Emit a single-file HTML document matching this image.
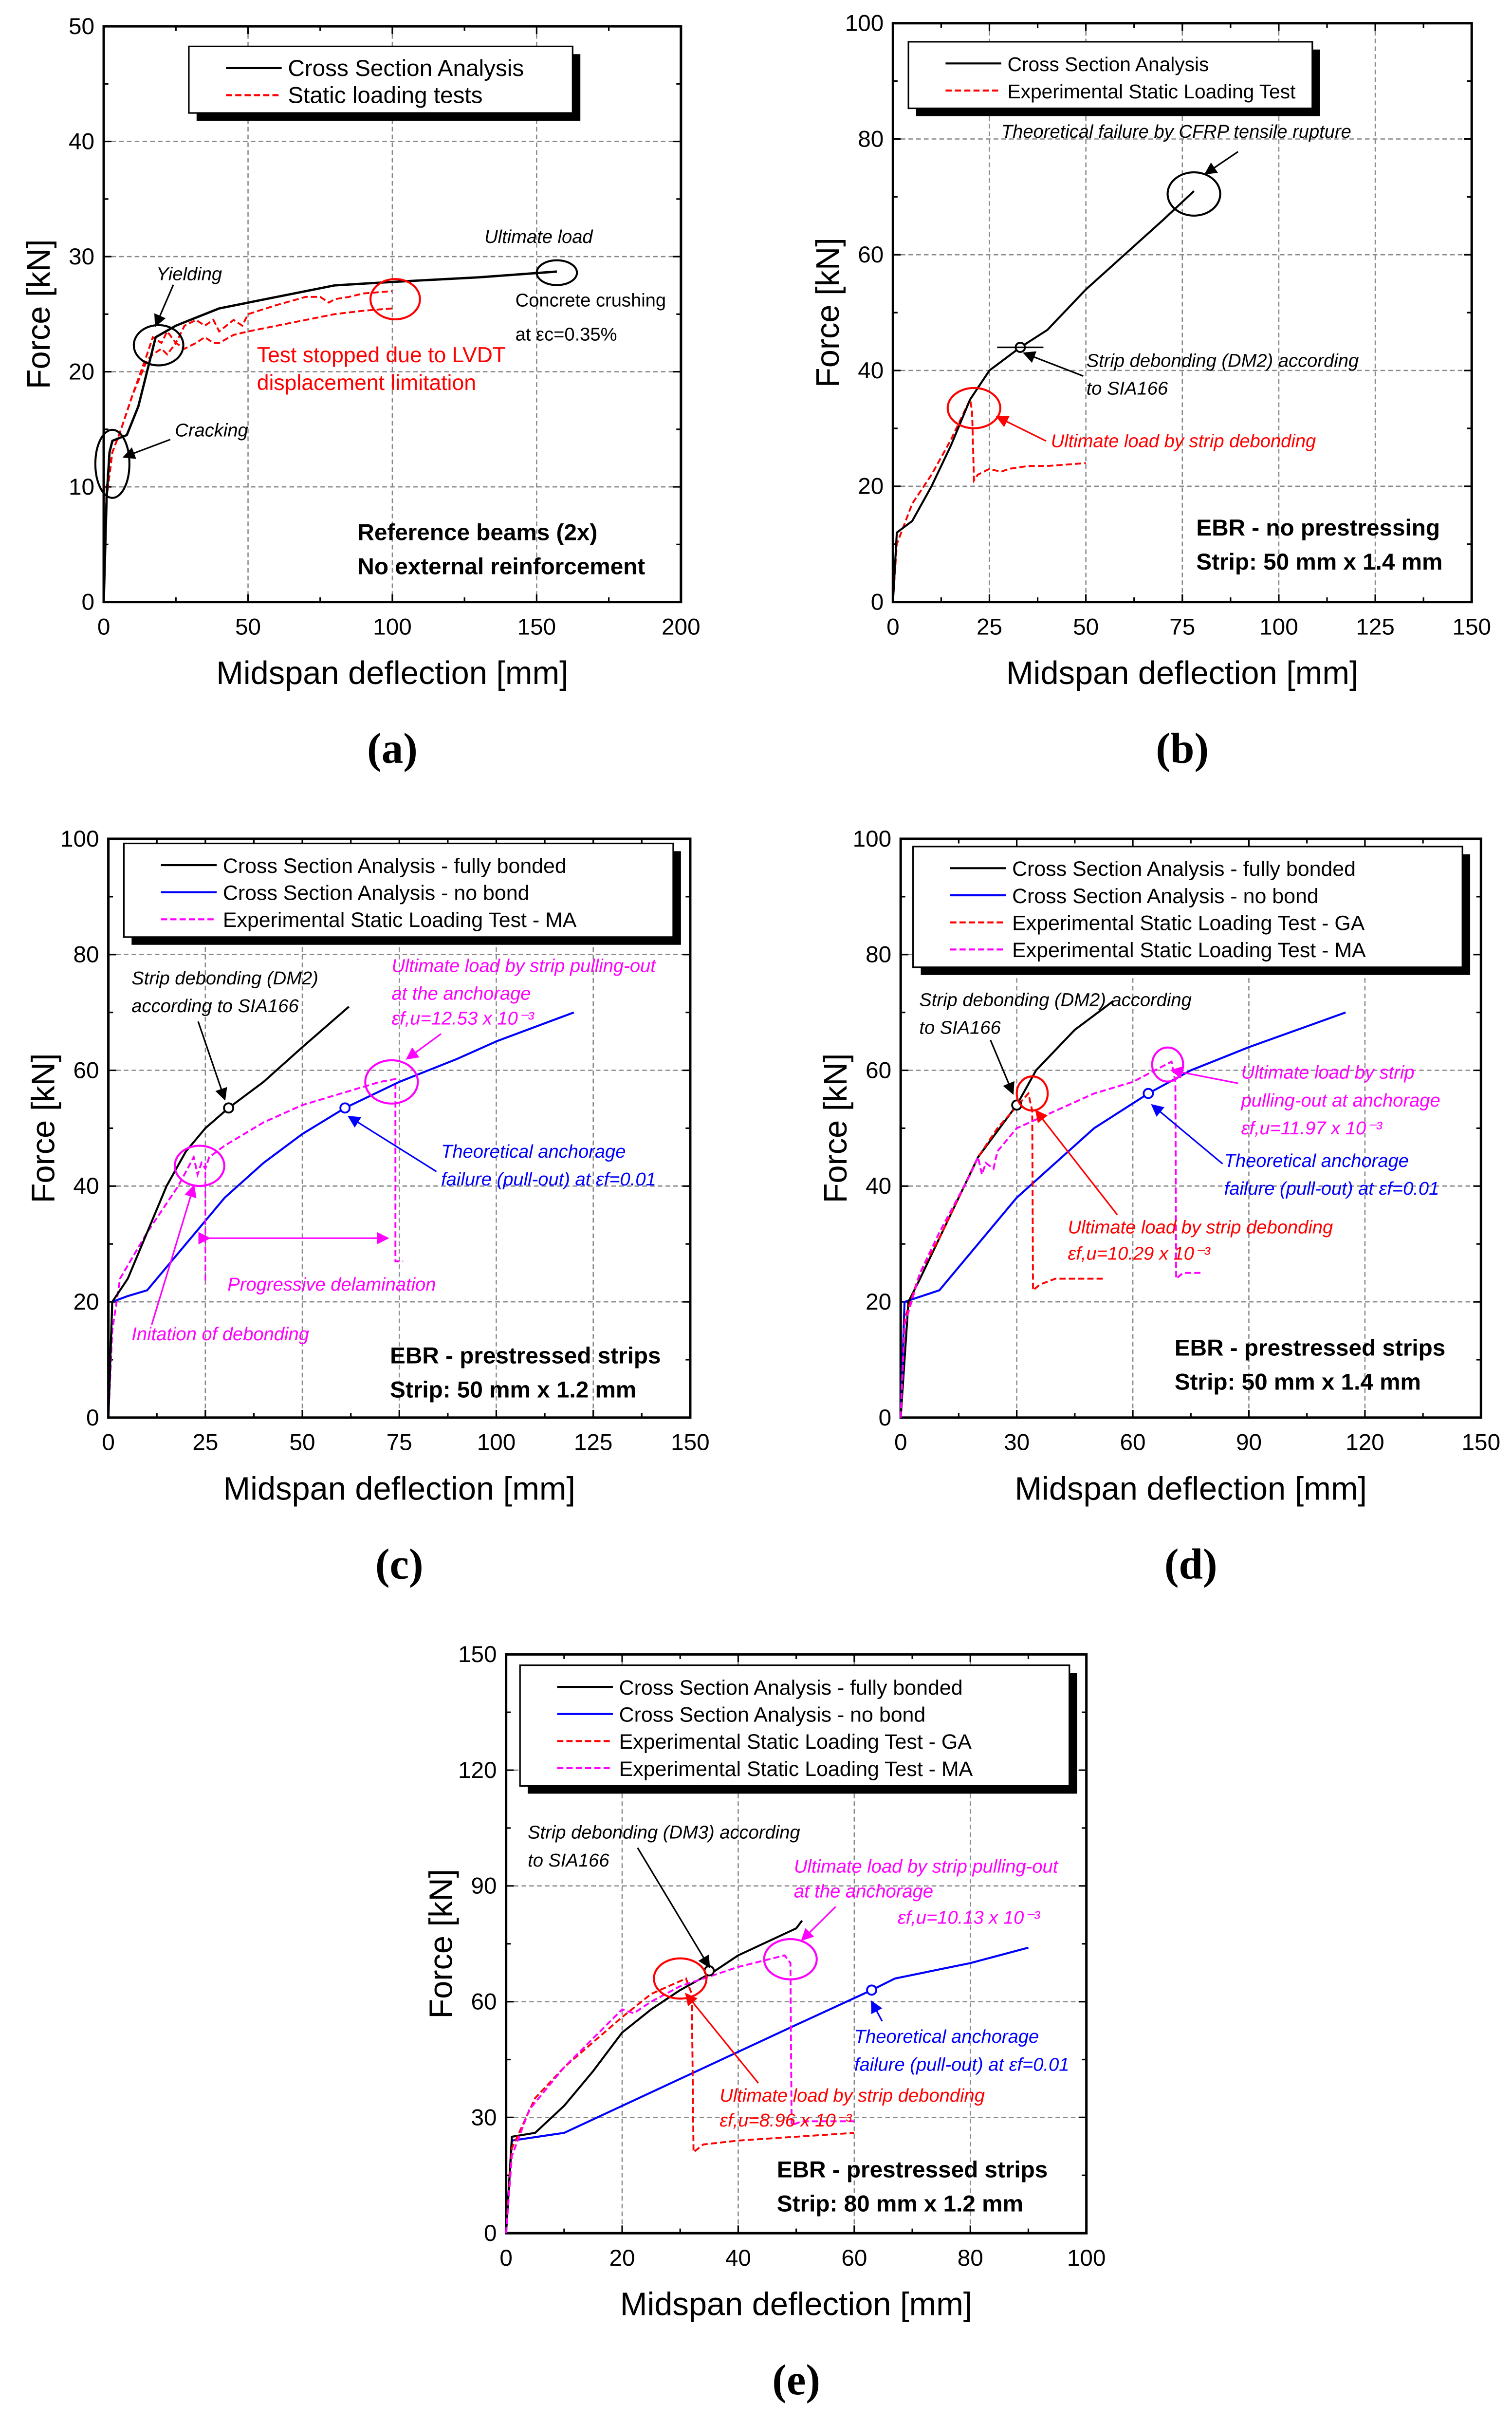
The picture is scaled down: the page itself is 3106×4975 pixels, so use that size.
<!DOCTYPE html>
<html><head><meta charset="utf-8"><style>
html,body{margin:0;padding:0;background:#fff;}
svg{display:block;}
</style></head><body>
<svg id="fig" xmlns="http://www.w3.org/2000/svg" width="3106" height="4975" viewBox="0 0 977 1565" font-family="Liberation Sans, sans-serif">
<rect width="977" height="1565" fill="#fff"/>
<defs>
<marker id="ah" markerWidth="8" markerHeight="8" refX="7" refY="4" orient="auto"><path d="M0,0 L8,4 L0,8 z" fill="context-stroke"/></marker>
</defs>
</svg>
<script>
// ---- data (deflection mm, force kN) ----
const aCsaX=[0,1,2,3,8,12,18,25,40,60,80,100,130,157];
const aCsaY=[0,9,13,14,14.5,17,23,24,25.5,26.5,27.5,27.8,28.2,28.7];
const aT1X=[0,1,3,6,10,15,17,20,22,25,28,32,35,38,40,45,48,50,60,70,75,78,80,85,90,100];
const aT1Y=[0,10,13,15,18,21.5,23,22.5,23.5,22.5,24,24.5,24,24.5,23.5,24.5,24,25,25.8,26.5,26.5,26,26.3,26.5,26.8,27];
const aT2X=[0,1,3,6,10,15,17,20,22,25,28,32,35,38,40,45,50,60,70,80,90,100];
const aT2Y=[0,9,13,15,18,21,21.5,22,21.5,22.5,22,22.5,23,22.5,22.5,23.2,23.5,24,24.5,25,25.3,25.5];
const bCsaX=[0,1,5,10,15,20,25,33,40,50,60,70,78];
const bCsaY=[0,12,14,20,27,35,40,44,47,54,60,66,71];
const bTestX=[0,1,5,10,15,20,20.5,21,22,25,28,30,35,40,50];
const bTestY=[0,10,17,22,28,35,33,21,22,23,22.5,23,23.5,23.5,24];
const cFullX=[0,1,5,10,15,20,25,31,40,50,62];
const cFullY=[0,20,24,32,40,46,50,53.5,58,64,71];
const cNoX=[0,1,5,10,20,30,40,50,61,75,90,100,120];
const cNoY=[0,20,21,22,30,38,44,49,53.5,58,62,65,70];
const cMaX=[0,1,3,10,18,22,23,24,25,26,30,40,50,60,70,74,74,76];
const cMaY=[0,15,24,32,40,45,42,44,43,45,47,51,54,56,58,58.5,27,27];
const dFullX=[0,2,5,10,20,30,35,45,55];
const dFullY=[0,20,24,31,45,54,60,67,72];
const dNoX=[0,1,10,20,30,40,50,64,75,90,115];
const dNoY=[0,20,22,30,38,44,50,56,60,64,70];
const dGaX=[0,1,5,10,20,25,33,34,34.2,36,40,53];
const dGaY=[0,17,25,31,45,50,56,53,22,23,24,24];
const dMaX=[0,1,5,10,18,20,21,22,24,25,30,40,50,60,70,71,71.2,73,78];
const dMaY=[0,16,25,32,42,45,42,44,43,46,50,53,56,58,61.5,58,24,25,25];
const eFullX=[0,1,5,10,15,20,25,30,36,40,50,51];
const eFullY=[0,25,26,33,42,52,58,63,68,72,79,81];
const eNoX=[0,1,10,20,30,40,50,63,67,80,90];
const eNoY=[0,24,26,33,40,47,54,63,66,70,74];
const eGaX=[0,1,5,10,20,25,31,32,32.3,34,40,60];
const eGaY=[0,22,35,43,56,62,66,62,21,23,24,26];
const eMaX=[0,1,4,10,20,22,25,30,40,48,49,49.2,51,60];
const eMaY=[0,20,32,43,58,57,60,64,69,72,70,28,29,29];
const ticks50=["0","10","20","30","40","50"];
const ticks100=["0","20","40","60","80","100"];
const ticks150=["0","30","60","90","120","150"];
const xt200=["0","50","100","150","200"];
const xt150a=["0","25","50","75","100","125","150"];
const xt150b=["0","30","60","90","120","150"];
const xt100=["0","20","40","60","80","100"];

const NS="http://www.w3.org/2000/svg";
const svg=document.getElementById('fig');
function mk(tag,attrs,parent){const e=document.createElementNS(NS,tag);for(const k in attrs)e.setAttribute(k,attrs[k]);(parent||svg).appendChild(e);return e;}
function txt(s,x,y,size,opts,parent){opts=opts||{};const t=mk('text',{x:x,y:y,'font-size':size,fill:opts.fill||'#000','text-anchor':opts.anchor||'start'},parent);if(opts.italic)t.setAttribute('font-style','italic');if(opts.bold)t.setAttribute('font-weight','bold');if(opts.family)t.setAttribute('style','font-family:'+opts.family);if(opts.rot)t.setAttribute('transform','rotate(-90 '+x+' '+y+')');t.textContent=s;return t;}

function panel(name,L,T,R,B,xmax,ymax,xt,yt,label){
  const g=mk('g',{});
  
  
  const sx=v=>L+(R-L)*v/xmax, sy=v=>B-(B-T)*v/ymax;
  const nx=xt.length-1, ny=yt.length-1;
  for(let i=1;i<nx;i++){const x=sx(xmax*i/nx);mk('line',{x1:x,y1:T,x2:x,y2:B,stroke:'#888','stroke-width':0.8,'stroke-dasharray':'3,2'},g);}
  for(let i=1;i<ny;i++){const y=sy(ymax*i/ny);mk('line',{x1:L,y1:y,x2:R,y2:y,stroke:'#888','stroke-width':0.8,'stroke-dasharray':'3,2'},g);}
  for(let i=0;i<=nx*2;i++){const x=sx(xmax*i/(nx*2));const len=i%2?3:5;mk('line',{x1:x,y1:B,x2:x,y2:B-len,stroke:'#000','stroke-width':1},g);mk('line',{x1:x,y1:T,x2:x,y2:T+len,stroke:'#000','stroke-width':1},g);}
  for(let i=0;i<=ny*2;i++){const y=sy(ymax*i/(ny*2));const len=i%2?3:5;mk('line',{x1:L,y1:y,x2:L+len,y2:y,stroke:'#000','stroke-width':1},g);mk('line',{x1:R,y1:y,x2:R-len,y2:y,stroke:'#000','stroke-width':1},g);}
  mk('rect',{x:L,y:T,width:R-L,height:B-T,fill:'none',stroke:'#000','stroke-width':1.6},g);
  xt.forEach((s,i)=>{const t=txt(s,sx(xmax*i/nx),B+21,15,{anchor:'middle'},g);});
  yt.forEach((s,i)=>{const t=txt(s,L-6,sy(ymax*i/ny)+5,15,{anchor:'end'},g);});
  const xtl=txt('Midspan deflection [mm]',(L+R)/2,B+53,21,{anchor:'middle'},g);
  
  const ytl=txt('Force [kN]',L-35,(T+B)/2,21,{anchor:'middle',rot:true},g);
  
  const pl=txt(label,(L+R)/2,B+104,28,{anchor:'middle',family:'"Liberation Serif",serif',bold:true},g);
  
  return {g,sx,sy};
}
function series(p,xs,ys,color,dash,name,w){
  const d=xs.map((x,i)=>(i?'L':'M')+p.sx(x).toFixed(2)+','+p.sy(ys[i]).toFixed(2)).join(' ');
  const e=mk('path',{d:d,fill:'none',stroke:color,'stroke-width':w||1.3,'stroke-dasharray':dash||'none'},p.g);
  
  
}
function legend(p,x,y,w,entries,fs){
  fs=fs||14;
  const h=entries.length*17.5+8;
  const g=mk('g',{},p.g);
  
  
  mk('rect',{x:x+5,y:y+5,width:w,height:h,fill:'#000'},g);
  mk('rect',{x:x,y:y,width:w,height:h,fill:'#fff',stroke:'#000','stroke-width':1},g);
  entries.forEach((en,i)=>{const yy=y+14+i*17.5;
    mk('line',{x1:x+24,y1:yy,x2:x+60,y2:yy,stroke:en[1],'stroke-width':1.3,'stroke-dasharray':en[2]||'none'},g);
    txt(en[0],x+64,yy+5,fs,{},g);});
}
function ell(p,cx,cy,rx,ry,color){const e=mk('ellipse',{cx:p.sx(cx),cy:p.sy(cy),rx:rx,ry:ry,fill:'none',stroke:color,'stroke-width':1.3},p.g);}
function arrow(p,x1,y1,x2,y2,color){const e=mk('line',{x1:x1,y1:y1,x2:p.sx(x2),y2:p.sy(y2),stroke:color,'stroke-width':1,'marker-end':'url(#ah)'},p.g);}
function dot(p,x,y,color){const e=mk('circle',{cx:p.sx(x),cy:p.sy(y),r:3,fill:'#fff',stroke:color,'stroke-width':1.2},p.g);}
function note(p,s,x,y,color,size,opts){opts=opts||{};opts.fill=color;const t=txt(s,x,y,size||12,opts,p.g);return t;}

// (a)
let p=panel('panel-a',67,17,440,389,200,50,xt200,ticks50,'(a)');
series(p,aT1X,aT1Y,'#f00','4,2','series-test-1',1.2);
series(p,aT2X,aT2Y,'#f00','4,2','series-test-2',1.2);
series(p,aCsaX,aCsaY,'#000',null,'series-cross-section',1.5);
legend(p,122,30,248,[['Cross Section Analysis','#000'],['Static loading tests','#f00','4,2']],15);
ell(p,3,12,11,22,'#000');ell(p,19,22.3,16,13,'#000');ell(p,101,26.3,16,13,'#f00');ell(p,157,28.6,13,8,'#000');
note(p,'Yielding',101,181,'#000',12,{italic:true});arrow(p,112,184,18,24,'#000');
note(p,'Cracking',113,282,'#000',12,{italic:true});arrow(p,110,284,7,12.6,'#000');
note(p,'Ultimate load',313,157,'#000',12,{italic:true});
note(p,'Concrete crushing',333,198,'#000',12);
note(p,'at εc=0.35%',333,220,'#000',12);
note(p,'Test stopped due to LVDT',166,234,'#f00',14);
note(p,'displacement limitation',166,252,'#f00',14);
note(p,'Reference beams (2x)',231,349,'#000',15,{bold:true});
note(p,'No external reinforcement',231,371,'#000',15,{bold:true});

// (b)
p=panel('panel-b',577,15,951,389,150,100,xt150a,ticks100,'(b)');
series(p,bTestX,bTestY,'#f00','4,2','series-test',1.2);
series(p,bCsaX,bCsaY,'#000',null,'series-cross-section',1.3);
legend(p,587,27,261,[['Cross Section Analysis','#000'],['Experimental Static Loading Test','#f00','4,2']],12.8);
dot(p,33,44,'#000');mk('line',{x1:p.sx(27),y1:p.sy(44),x2:p.sx(39),y2:p.sy(44),stroke:'#000','stroke-width':1},p.g);
ell(p,78,70.5,17,14,'#000');ell(p,21,33.5,17,13,'#f00');
note(p,'Theoretical failure by CFRP tensile rupture',647,89,'#000',12,{italic:true});arrow(p,800,98,81,74,'#000');
note(p,'Strip debonding (DM2) according',702,237,'#000',12,{italic:true});
note(p,'to SIA166',702,255,'#000',12,{italic:true});arrow(p,700,243,34,43,'#000');
note(p,'Ultimate load by strip debonding',679,289,'#f00',12,{italic:true});arrow(p,676,285,27,32,'#f00');
note(p,'EBR - no prestressing',773,346,'#000',15,{bold:true});
note(p,'Strip: 50 mm x 1.4 mm',773,368,'#000',15,{bold:true});

// (c)
p=panel('panel-c',70,542,446,916,150,100,xt150a,ticks100,'(c)');
series(p,cMaX,cMaY,'#f0f','4,2','series-test-ma',1.2);
series(p,cNoX,cNoY,'#00f',null,'series-no-bond',1.3);
series(p,cFullX,cFullY,'#000',null,'series-fully-bonded',1.3);
legend(p,80,545,355,[['Cross Section Analysis - fully bonded','#000'],['Cross Section Analysis - no bond','#00f'],['Experimental Static Loading Test - MA','#f0f','4,2']],13.5);
dot(p,31,53.5,'#000');dot(p,61,53.5,'#00f');
ell(p,23.5,43.5,16,13,'#f0f');ell(p,73,58,17,14,'#f0f');
mk('line',{x1:p.sx(25),y1:p.sy(44),x2:p.sx(25),y2:p.sy(23),stroke:'#f0f','stroke-width':1,'stroke-dasharray':'4,2'},p.g);
note(p,'Strip debonding (DM2)',85,636,'#000',12,{italic:true});note(p,'according to SIA166',85,654,'#000',12,{italic:true});arrow(p,128,660,30,55,'#000');
note(p,'Ultimate load by strip pulling-out',253,628,'#f0f',12,{italic:true});note(p,'at the anchorage',253,646,'#f0f',12,{italic:true});note(p,'εf,u=12.53 x 10⁻³',253,662,'#f0f',12,{italic:true});arrow(p,285,668,77,62,'#f0f');
note(p,'Theoretical anchorage',285,748,'#00f',12,{italic:true});note(p,'failure (pull-out) at εf=0.01',285,766,'#00f',12,{italic:true});arrow(p,282,757,62,52,'#00f');
mk('line',{x1:p.sx(26),y1:p.sy(31),x2:p.sx(72),y2:p.sy(31),stroke:'#f0f','stroke-width':1,'marker-end':'url(#ah)','marker-start':'url(#ah)'},p.g);
note(p,'Progressive delamination',147,834,'#f0f',12,{italic:true});
note(p,'Initation of debonding',85,866,'#f0f',12,{italic:true});arrow(p,98,856,22,40,'#f0f');
note(p,'EBR - prestressed strips',252,881,'#000',15,{bold:true});
note(p,'Strip: 50 mm x 1.2 mm',252,903,'#000',15,{bold:true});

// (d)
p=panel('panel-d',582,542,957,916,150,100,xt150b,ticks100,'(d)');
series(p,dNoX,dNoY,'#00f',null,'series-no-bond',1.3);
series(p,dFullX,dFullY,'#000',null,'series-fully-bonded',1.3);
series(p,dGaX,dGaY,'#f00','4,2','series-test-ga',1.2);
series(p,dMaX,dMaY,'#f0f','4,2','series-test-ma',1.2);
legend(p,590,547,355,[['Cross Section Analysis - fully bonded','#000'],['Cross Section Analysis - no bond','#00f'],['Experimental Static Loading Test - GA','#f00','4,2'],['Experimental Static Loading Test - MA','#f0f','4,2']],13.5);
dot(p,30,54,'#000');dot(p,64,56,'#00f');
ell(p,34,56,10,11,'#f00');ell(p,69,61,10,11,'#f0f');
note(p,'Strip debonding (DM2) according',594,650,'#000',12,{italic:true});note(p,'to SIA166',594,668,'#000',12,{italic:true});arrow(p,640,672,29,56,'#000');
note(p,'Ultimate load by strip',802,697,'#f0f',12,{italic:true});note(p,'pulling-out at anchorage',802,715,'#f0f',12,{italic:true});note(p,'εf,u=11.97 x 10⁻³',802,733,'#f0f',12,{italic:true});arrow(p,800,700,70,60,'#f0f');
note(p,'Theoretical anchorage',791,754,'#00f',12,{italic:true});note(p,'failure (pull-out) at εf=0.01',791,772,'#00f',12,{italic:true});arrow(p,790,752,65,54,'#00f');
note(p,'Ultimate load by strip debonding',690,797,'#f00',12,{italic:true});note(p,'εf,u=10.29 x 10⁻³',690,814,'#f00',12,{italic:true});arrow(p,722,785,35,53,'#f00');
note(p,'EBR - prestressed strips',759,876,'#000',15,{bold:true});
note(p,'Strip: 50 mm x 1.4 mm',759,898,'#000',15,{bold:true});

// (e)
p=panel('panel-e',327,1069,702,1443,100,150,xt100,ticks150,'(e)');
series(p,eNoX,eNoY,'#00f',null,'series-no-bond',1.3);
series(p,eFullX,eFullY,'#000',null,'series-fully-bonded',1.3);
series(p,eGaX,eGaY,'#f00','4,2','series-test-ga',1.2);
series(p,eMaX,eMaY,'#f0f','4,2','series-test-ma',1.2);
legend(p,336,1076,355,[['Cross Section Analysis - fully bonded','#000'],['Cross Section Analysis - no bond','#00f'],['Experimental Static Loading Test - GA','#f00','4,2'],['Experimental Static Loading Test - MA','#f0f','4,2']],13.5);
dot(p,35,68,'#000');dot(p,63,63,'#00f');
ell(p,30,66,17,13,'#f00');ell(p,49,71,17,13,'#f0f');
note(p,'Strip debonding (DM3) according',341,1188,'#000',12,{italic:true});note(p,'to SIA166',341,1206,'#000',12,{italic:true});arrow(p,412,1194,35,69,'#000');
note(p,'Ultimate load by strip pulling-out',513,1210,'#f0f',12,{italic:true});note(p,'at the anchorage',513,1226,'#f0f',12,{italic:true});note(p,'εf,u=10.13 x 10⁻³',580,1243,'#f0f',12,{italic:true});arrow(p,540,1232,51,76,'#f0f');
note(p,'Theoretical anchorage',552,1320,'#00f',12,{italic:true});note(p,'failure (pull-out) at εf=0.01',552,1338,'#00f',12,{italic:true});arrow(p,570,1306,63,60,'#00f');
note(p,'Ultimate load by strip debonding',465,1358,'#f00',12,{italic:true});note(p,'εf,u=8.96 x 10⁻³',465,1374,'#f00',12,{italic:true});arrow(p,490,1346,31,62,'#f00');
note(p,'EBR - prestressed strips',502,1407,'#000',15,{bold:true});
note(p,'Strip: 80 mm x 1.2 mm',502,1429,'#000',15,{bold:true});
</script>
</body></html>
